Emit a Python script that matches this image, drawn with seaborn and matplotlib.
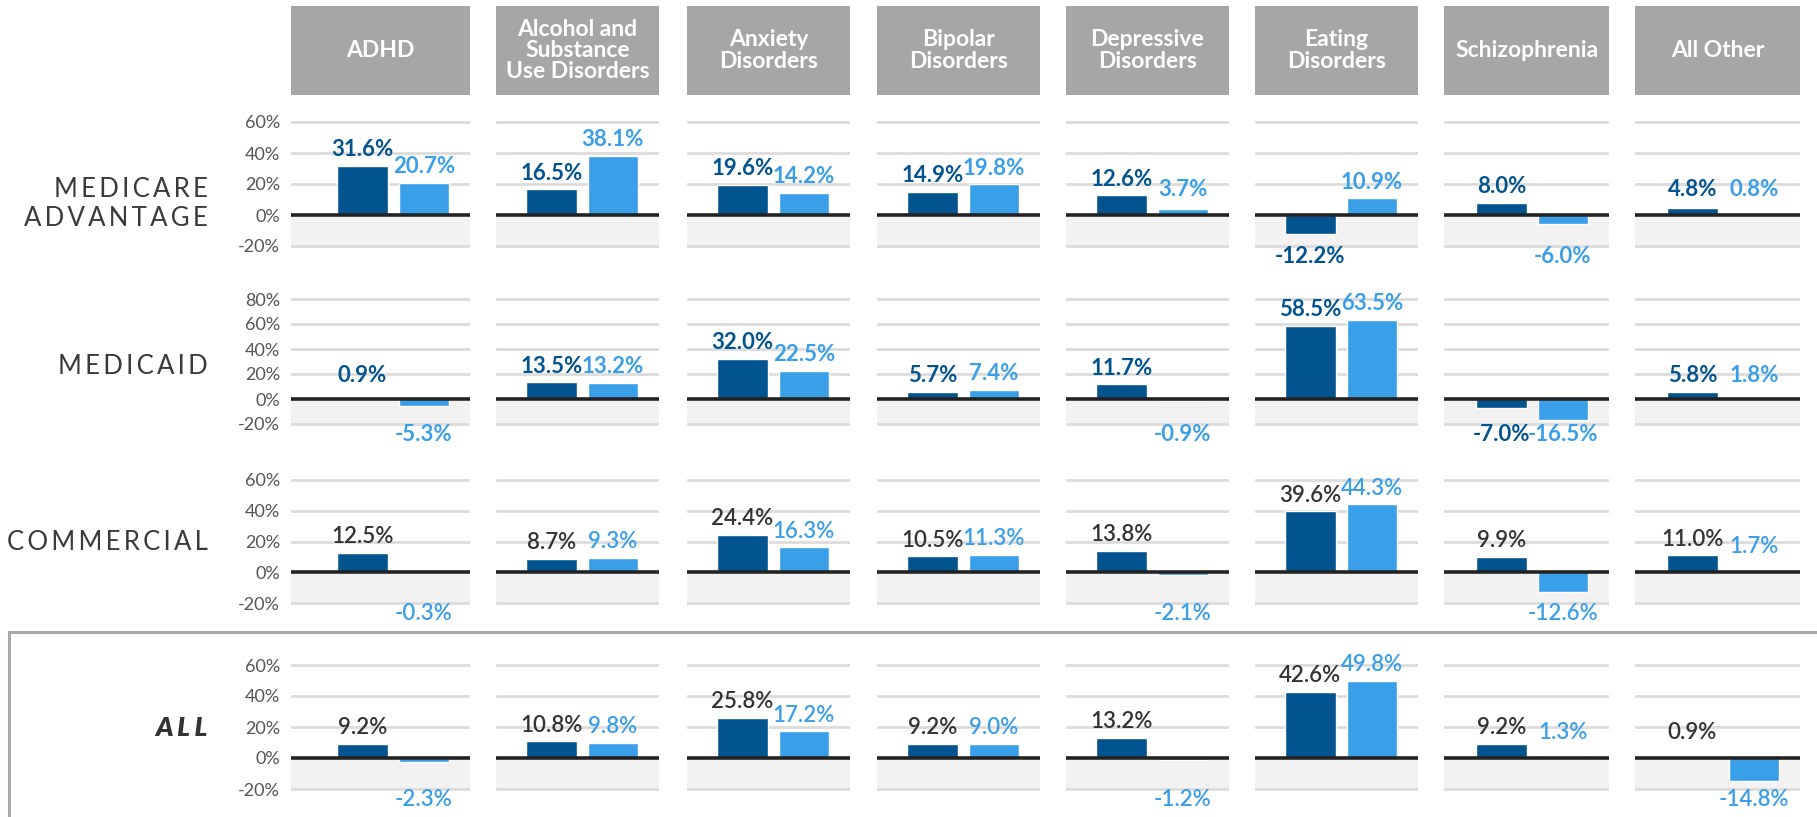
import pandas as pd
import seaborn as sns
import matplotlib.pyplot as plt
from matplotlib.patches import Rectangle

sns.set_theme(style='white')
plt.rcParams['font.family'] = ['Lato', 'DejaVu Sans']

categories = ['ADHD', 'Alcohol and\nSubstance\nUse Disorders', 'Anxiety\nDisorders',
              'Bipolar\nDisorders', 'Depressive\nDisorders', 'Eating\nDisorders',
              'Schizophrenia', 'All Other']
segments = ['MEDICARE\nADVANTAGE', 'MEDICAID', 'COMMERCIAL', 'ALL']

# dark bar / light bar, one pair of lists per segment (percent)
medicare_dark = [31.6, 16.5, 19.6, 14.9, 12.6, -12.2, 8.0, 4.8]
medicare_light = [20.7, 38.1, 14.2, 19.8, 3.7, 10.9, -6.0, 0.8]
medicaid_dark = [0.9, 13.5, 32.0, 5.7, 11.7, 58.5, -7.0, 5.8]
medicaid_light = [-5.3, 13.2, 22.5, 7.4, -0.9, 63.5, -16.5, 1.8]
commercial_dark = [12.5, 8.7, 24.4, 10.5, 13.8, 39.6, 9.9, 11.0]
commercial_light = [-0.3, 9.3, 16.3, 11.3, -2.1, 44.3, -12.6, 1.7]
all_dark = [9.2, 10.8, 25.8, 9.2, 13.2, 42.6, 9.2, 0.9]
all_light = [-2.3, 9.8, 17.2, 9.0, -1.2, 49.8, 1.3, -14.8]

yticks_top = [60, 80, 60, 60]

DARK = '#02548f'
LIGHT = '#3a9fe9'
HEAD = '#a6a6a6'

pairs = [(medicare_dark, medicare_light), (medicaid_dark, medicaid_light),
         (commercial_dark, commercial_light), (all_dark, all_light)]
rows = []
for seg, (dk, lt) in zip(segments, pairs):
    for cat, d, l in zip(categories, dk, lt):
        rows.append((seg, cat, 'dark', d))
        rows.append((seg, cat, 'light', l))
df = pd.DataFrame(rows, columns=['segment', 'category', 'series', 'value'])

W, H = 1817, 817
fig = plt.figure(figsize=(W / 100, H / 100), dpi=100)

# layout in pixels
col_left = [291, 496, 687, 877, 1066, 1255, 1444, 1635]
col_width = [179, 163, 163, 163, 163, 163, 165, 165]
row_px = [(122, 246), (299, 424), (480, 603), (665, 789)]   # top tick line, -20% line
unit_px = 61.5


def px_axes(left, top, width, height):
    return fig.add_axes([left / W, 1 - (top + height) / H, width / W, height / H])


def spaced(s, sep='\u2009'):
    return '\n'.join(sep.join(line) for line in s.split('\n'))


# header boxes
for j, cat in enumerate(categories):
    hax = px_axes(col_left[j], 6, col_width[j], 89)
    hax.set_facecolor(HEAD)
    hax.set_xticks([]); hax.set_yticks([])
    for sp in hax.spines.values():
        sp.set_visible(False)
    hax.text(0.5, 0.5, cat, ha='center', va='center', color='white', fontsize=16.5,
             fontweight='bold', linespacing=1.0, transform=hax.transAxes)

for i, seg in enumerate(segments):
    ytop = yticks_top[i]
    top_px, bot_px = row_px[i]
    ppu = (bot_px - top_px) / (ytop + 20)
    lo, hi = -21.5, ytop + 2.5
    ax_top = top_px - 2.5 * ppu
    ax_h = (hi - lo) * ppu
    dark_lbl = DARK if i < 2 else '#333333'
    weight = 'bold' if i < 2 else 'semibold'

    for j, cat in enumerate(categories):
        sub = df[(df.segment == seg) & (df.category == cat)]
        ax = px_axes(col_left[j], ax_top, col_width[j], ax_h)
        ax.axhspan(-20, -1.2, color='#f2f2f2', zorder=0, lw=0)
        for t in range(-20, ytop + 1, 20):
            if t != 0:
                ax.axhline(t, color='#dcdcdc', lw=2, zorder=0.5)
        sns.barplot(data=sub, x='series', y='value', hue='series', palette=[DARK, LIGHT],
                    saturation=1, width=0.82, legend=False, ax=ax, zorder=2)
        ax.axhline(0, color='#222222', lw=2.6, zorder=3)
        ax.set_ylim(lo, hi)
        ax.set_xlim(1.75 - col_width[j] / unit_px, 1.75)
        ax.set_xticks([])
        ax.set_xlabel(''); ax.set_ylabel('')
        sns.despine(ax=ax, left=True, bottom=True)
        ax.set_facecolor('none')
        if j == 0:
            ticks = list(range(-20, ytop + 1, 20))
            ax.set_yticks(ticks)
            ax.set_yticklabels([f'{t}%' for t in ticks], color='#555555', fontsize=13)
            ax.tick_params(axis='y', length=0, pad=8)
        else:
            ax.set_yticks([])

        for k, (s, v) in enumerate(zip(sub.series, sub.value)):
            col = dark_lbl if s == 'dark' else LIGHT
            if v >= 0:
                ax.annotate(f'{v:.1f}%', (k, max(v, 6)), xytext=(0, 4), textcoords='offset points',
                            ha='center', va='bottom', color=col, fontsize=16,
                            fontweight=weight, annotation_clip=False)
            else:
                ax.annotate(f'{v:.1f}%', (k, min(v, -20)), xytext=(0, 0), textcoords='offset points',
                            ha='center', va='top', color=col, fontsize=16,
                            fontweight=weight, annotation_clip=False)

    if seg == 'ALL':
        fig.text(208 / W, 1 - 728 / H, spaced(seg, '\u2009\u200a'), ha='right', va='center',
                 fontsize=19, fontweight='heavy', fontstyle='italic', color='#333333')
    else:
        yc = {0: 204, 1: 366, 2: 543}[i]
        fig.text(208 / W, 1 - yc / H, spaced(seg), ha='right', va='center', fontsize=18.5,
                 fontweight='normal', color='#3a3a3a', multialignment='right', linespacing=1.2)

# frame around the ALL row
fig.patches.append(Rectangle((9 / W, -0.05), 1.05, (1 - 632 / H) + 0.05, transform=fig.transFigure,
                             fill=False, edgecolor='#a9a9a9', lw=2.2, zorder=0))

fig.savefig('out.png', dpi=100)
